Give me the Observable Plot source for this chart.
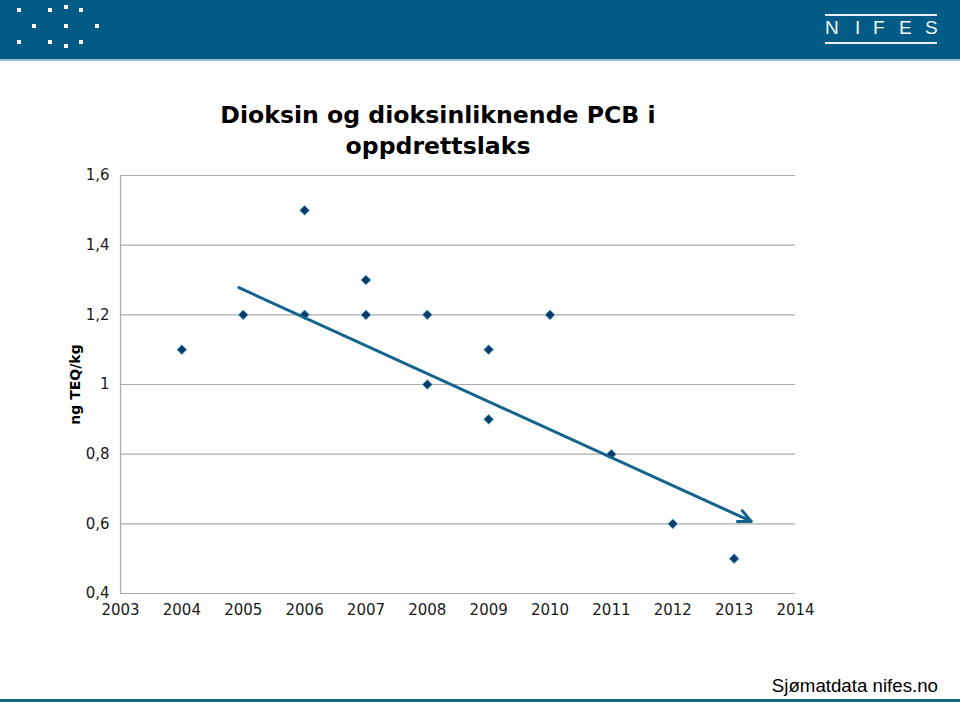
<!DOCTYPE html>
<html>
<head>
<meta charset="utf-8">
<script src="https://cdn.jsdelivr.net/npm/d3@7"></script>
<script src="https://cdn.jsdelivr.net/npm/@observablehq/plot@0.6"></script>
<style>
  html, body { margin: 0; padding: 0; background: #fff; }
  #page { position: relative; width: 960px; height: 702px; overflow: hidden; background: #fff; }
  #banner { position: absolute; left: 0; top: 0; width: 960px; height: 59px; background: #025b86; border-bottom: 2px solid #8cc0d8; }
  #logo { position: absolute; left: 0; top: 0; }
  #nifes { position: absolute; left: 825px; top: 14px; width: 112px; height: 26px; border-top: 2px solid #e8f1f6; border-bottom: 2px solid #e8f1f6; }
  #nifes span { position: absolute; top: 1px; font-family: "Liberation Sans", sans-serif; font-size: 19px; color: #f2f6f9; font-weight: normal; }
  #title { position: absolute; left: 138px; top: 100px; width: 600px; text-align: center; font-family: "DejaVu Sans", sans-serif; font-weight: bold; font-size: 23.6px; line-height: 31px; color: #000; }
  #chart { position: absolute; left: 0; top: 160px; }
  #footer { position: absolute; right: 22px; top: 675px; font-family: "Liberation Sans", Arial, sans-serif; font-size: 18.7px; color: #000; }
  #bottombar { position: absolute; left: 0; top: 699px; width: 960px; height: 3px; background: #15697f; }
</style>
</head>
<body>
<div id="page">
  <div id="banner">
    <svg id="logo" width="120" height="59">
      <g fill="#ffffff">
        <rect x="17" y="8" width="4" height="4"/>
        <rect x="48" y="8" width="4" height="4"/>
        <rect x="64" y="5" width="4" height="4"/>
        <rect x="79" y="8" width="4" height="4"/>
        <rect x="32" y="24" width="4" height="4"/>
        <rect x="64" y="24" width="4" height="4"/>
        <rect x="95" y="24" width="4" height="4"/>
        <rect x="17" y="40" width="4" height="4"/>
        <rect x="48" y="40" width="4" height="4"/>
        <rect x="64" y="44" width="4" height="4"/>
        <rect x="79" y="40" width="4" height="4"/>
      </g>
    </svg>
    <div id="nifes">
      <span style="left:0px">N</span>
      <span style="left:30px">I</span>
      <span style="left:48px">F</span>
      <span style="left:74px">E</span>
      <span style="left:100px">S</span>
    </div>
  </div>
  <div id="title">Dioksin og dioksinliknende PCB i<br>oppdrettslaks</div>
  <div id="chart"></div>
  <div id="footer">Sjømatdata nifes.no</div>
  <div id="bottombar"></div>
</div>
<script>
// ---- Data ----
const years  = [2004, 2005, 2006, 2006, 2007, 2007, 2008, 2008, 2009, 2009, 2010, 2011, 2012, 2013];
const values = [1.1,  1.2,  1.5,  1.2,  1.3,  1.2,  1.2,  1.0,  1.1,  0.9,  1.2,  0.8,  0.6,  0.5];
const xTicks = [2003, 2004, 2005, 2006, 2007, 2008, 2009, 2010, 2011, 2012, 2013, 2014];
const yTicks = [0.4, 0.6, 0.8, 1.0, 1.2, 1.4, 1.6];
const trendX = [2004.93, 2013.28];
const trendY = [1.278, 0.607];
const yLabel = "ng TEQ/kg";

const points = years.map((x, i) => ({x, y: values[i]}));
const trend = [{x1: trendX[0], y1: trendY[0], x2: trendX[1], y2: trendY[1]}];
const fmt = d => String(+d.toFixed(1)).replace(".", ",");

const chart = Plot.plot({
  width: 960,
  height: 470,
  marginLeft: 120,
  marginRight: 165,
  marginTop: 15,
  marginBottom: 37,
  style: {fontFamily: "DejaVu Sans, sans-serif", fontSize: "15px", color: "#1a1a1a", background: "transparent"},
  x: {domain: [xTicks[0], xTicks[xTicks.length - 1]], label: null},
  y: {domain: [yTicks[0], yTicks[yTicks.length - 1]], label: null},
  marks: [
    Plot.ruleY(yTicks, {stroke: "#ababab", strokeWidth: 1.2}),
    Plot.ruleX([xTicks[0]], {stroke: "#ababab", strokeWidth: 1.2}),
    Plot.axisX({ticks: xTicks, tickFormat: d => String(d), tickSize: 0, tickPadding: 11, fontSize: 15}),
    Plot.axisY({ticks: yTicks, tickFormat: fmt, tickSize: 0, tickPadding: 11, fontSize: 15, label: null}),
    Plot.text([yLabel], {frameAnchor: "left", dx: -45, rotate: -90, textAnchor: "middle", fontWeight: "bold", fontSize: 14, fill: "#000"}),
    Plot.dot(points, {x: "x", y: "y", symbol: "diamond2", r: 4.4, fill: "#0d3a6b", stroke: "#5bb7cf", strokeWidth: 1}),
    Plot.arrow(trend, {x1: "x1", y1: "y1", x2: "x2", y2: "y2", stroke: "#13638f", strokeWidth: 3, headLength: 7, headAngle: 50, bend: 0})
  ]
});
document.getElementById("chart").appendChild(chart);
</script>
</body>
</html>
